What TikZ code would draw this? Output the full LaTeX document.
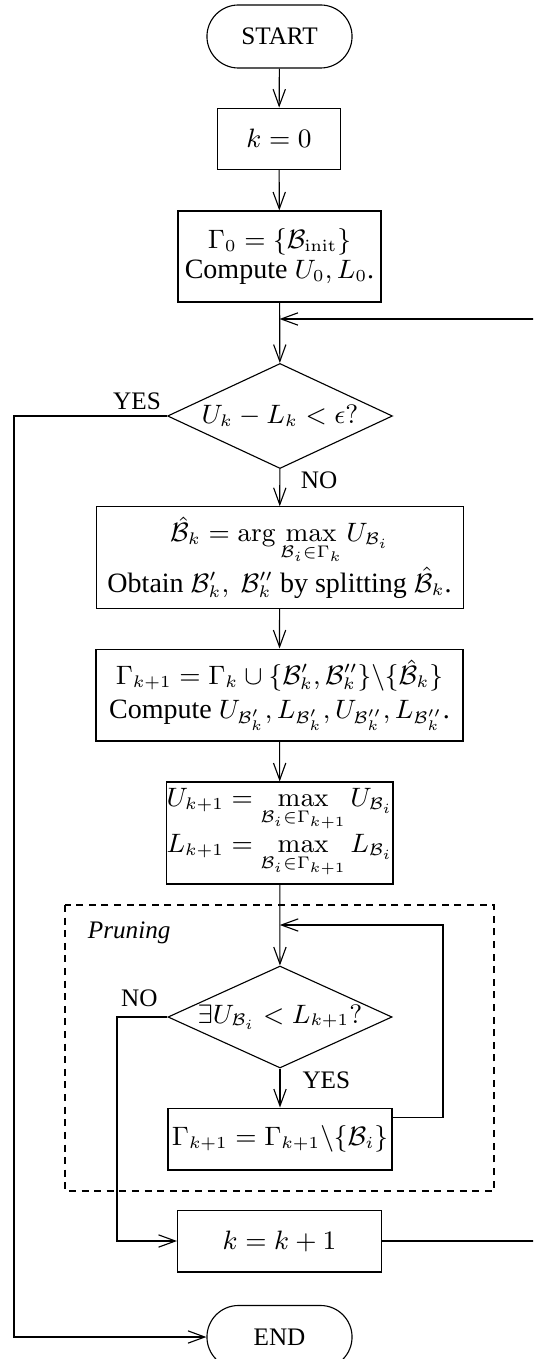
\RequirePackage{fix-cm}
\documentclass[tikz,border=0pt]{standalone}
\usepackage{amsmath,amssymb}
\usepackage[no-math]{fontspec}
\setmainfont{Liberation Serif}
\DeclareMathSizes{10}{9.5}{6}{5}
\usetikzlibrary{shapes.geometric, shapes.misc, arrows.meta}

\begin{document}
\begin{tikzpicture}[x=0.357pt, y=-0.357pt,
			>={Straight Barb[length=6pt,width=4.4pt]},   %Pfeilspitzen
			terminal/.style={draw, rounded rectangle, minimum width=51.8pt, minimum height=22.5pt, inner sep=0pt, font=\small},
			block/.style={draw, rectangle, align=center, inner sep=0pt},
			decision/.style={draw, diamond, aspect=2.2, inner sep=0pt},
			lbl/.style={font=\small}]
			%Bildbereich
			\useasboundingbox (0,0) rectangle (533,1359);
			\clip (0,0) rectangle (533,1359);
			% Knoten zeichnen
			\node[terminal] (start) at (279.5,36.5) {START};
			\node[block, minimum width=43.6pt, minimum height=21.8pt] (kzero) at (279,138.7) {$k=0$};
			\node[block, minimum width=72.5pt, minimum height=32.5pt, font=\fontsize{10}{11}\selectfont] (init) at (279.5,256.5) {$\Gamma_0=\{\mathcal{B}_{\mathrm{init}}\}$\\ Compute $U_0, L_0$.};
			\node[decision, minimum width=80.3pt, minimum height=37.5pt] (test) at (280,416) {$U_k-L_k<\epsilon?$};
			\node[block, minimum width=131pt, minimum height=36.2pt] (split) at (279.6,557.5) {$\hat{\mathcal{B}}_k=\arg\max\limits_{\mathcal{B}_i\in\Gamma_k} U_{\mathcal{B}_i}$\\ Obtain $\mathcal{B}'_k,\ \mathcal{B}''_k$ by splitting $\hat{\mathcal{B}}_k$.};
			\node[block, minimum width=131pt, minimum height=32.8pt] (update) at (279.5,695) {$\Gamma_{k+1}=\Gamma_k\cup\{\mathcal{B}'_k,\mathcal{B}''_k\}\backslash\{\hat{\mathcal{B}}_k\}$\\ Compute $U_{\mathcal{B}'_k},L_{\mathcal{B}'_k},U_{\mathcal{B}''_k},L_{\mathcal{B}''_k}$.};
			\node[block, minimum width=80.3pt, minimum height=36.4pt] (bounds) at (279.8,833) {$U_{k+1}=\max\limits_{\mathcal{B}_i\in\Gamma_{k+1}} U_{\mathcal{B}_i}$\\ $L_{k+1}=\max\limits_{\mathcal{B}_i\in\Gamma_{k+1}} L_{\mathcal{B}_i}$};
			\node[decision, minimum width=80pt, minimum height=36.4pt] (ptest) at (280,1017) {$\exists U_{\mathcal{B}_i}<L_{k+1}?$};
			\node[block, minimum width=80pt, minimum height=22.1pt] (remove) at (280,1139) {$\Gamma_{k+1}=\Gamma_{k+1}\backslash\{\mathcal{B}_i\}$};
			\node[block, minimum width=72.8pt, minimum height=22.1pt] (incr) at (279.5,1241) {$k=k+1$};
			\node[terminal] (finish) at (279.5,1337) {END};
			% Pruning-Rahmen
			\draw[dash pattern=on 2.5pt off 2pt] (65,905) rectangle (494,1191);
			\node[lbl, font=\small\itshape, anchor=north west] (prunetitle) at (78,912) {Pruning};
			% Einmuendungen
			\coordinate (loopin) at (279.5,319);
			\coordinate (pruneloop) at (279.8,925);
			% Pfeile zeichnen
			\draw[->] (start) -- (kzero);
			\draw[->] (kzero) -- (init);
			\draw[->] (init) -- (test);
			\draw[->] (test) -- node[lbl, right=4pt, pos=0.3] {NO} (split);
			\draw[->] (split) -- (update);
			\draw[->] (update) -- (bounds);
			\draw[->] (bounds) -- (ptest);
			\draw[->] (ptest) -- node[lbl, right=4.5pt, pos=0.3] {YES} (remove);
			\draw[->] ([yshift=-3.6pt]remove.north east) -| (443,925) -- (pruneloop);
			\draw[->] (ptest.west) node[lbl, above left] {NO} -- (117,1017) |- (incr.west);
			\draw[->] (incr.east) -- (536,1241) |- (loopin);
			\draw[->] (test.west) node[lbl, above left, inner sep=2pt] {YES} -- (14,416) |- (finish.west);
		\end{tikzpicture}
\end{document}
